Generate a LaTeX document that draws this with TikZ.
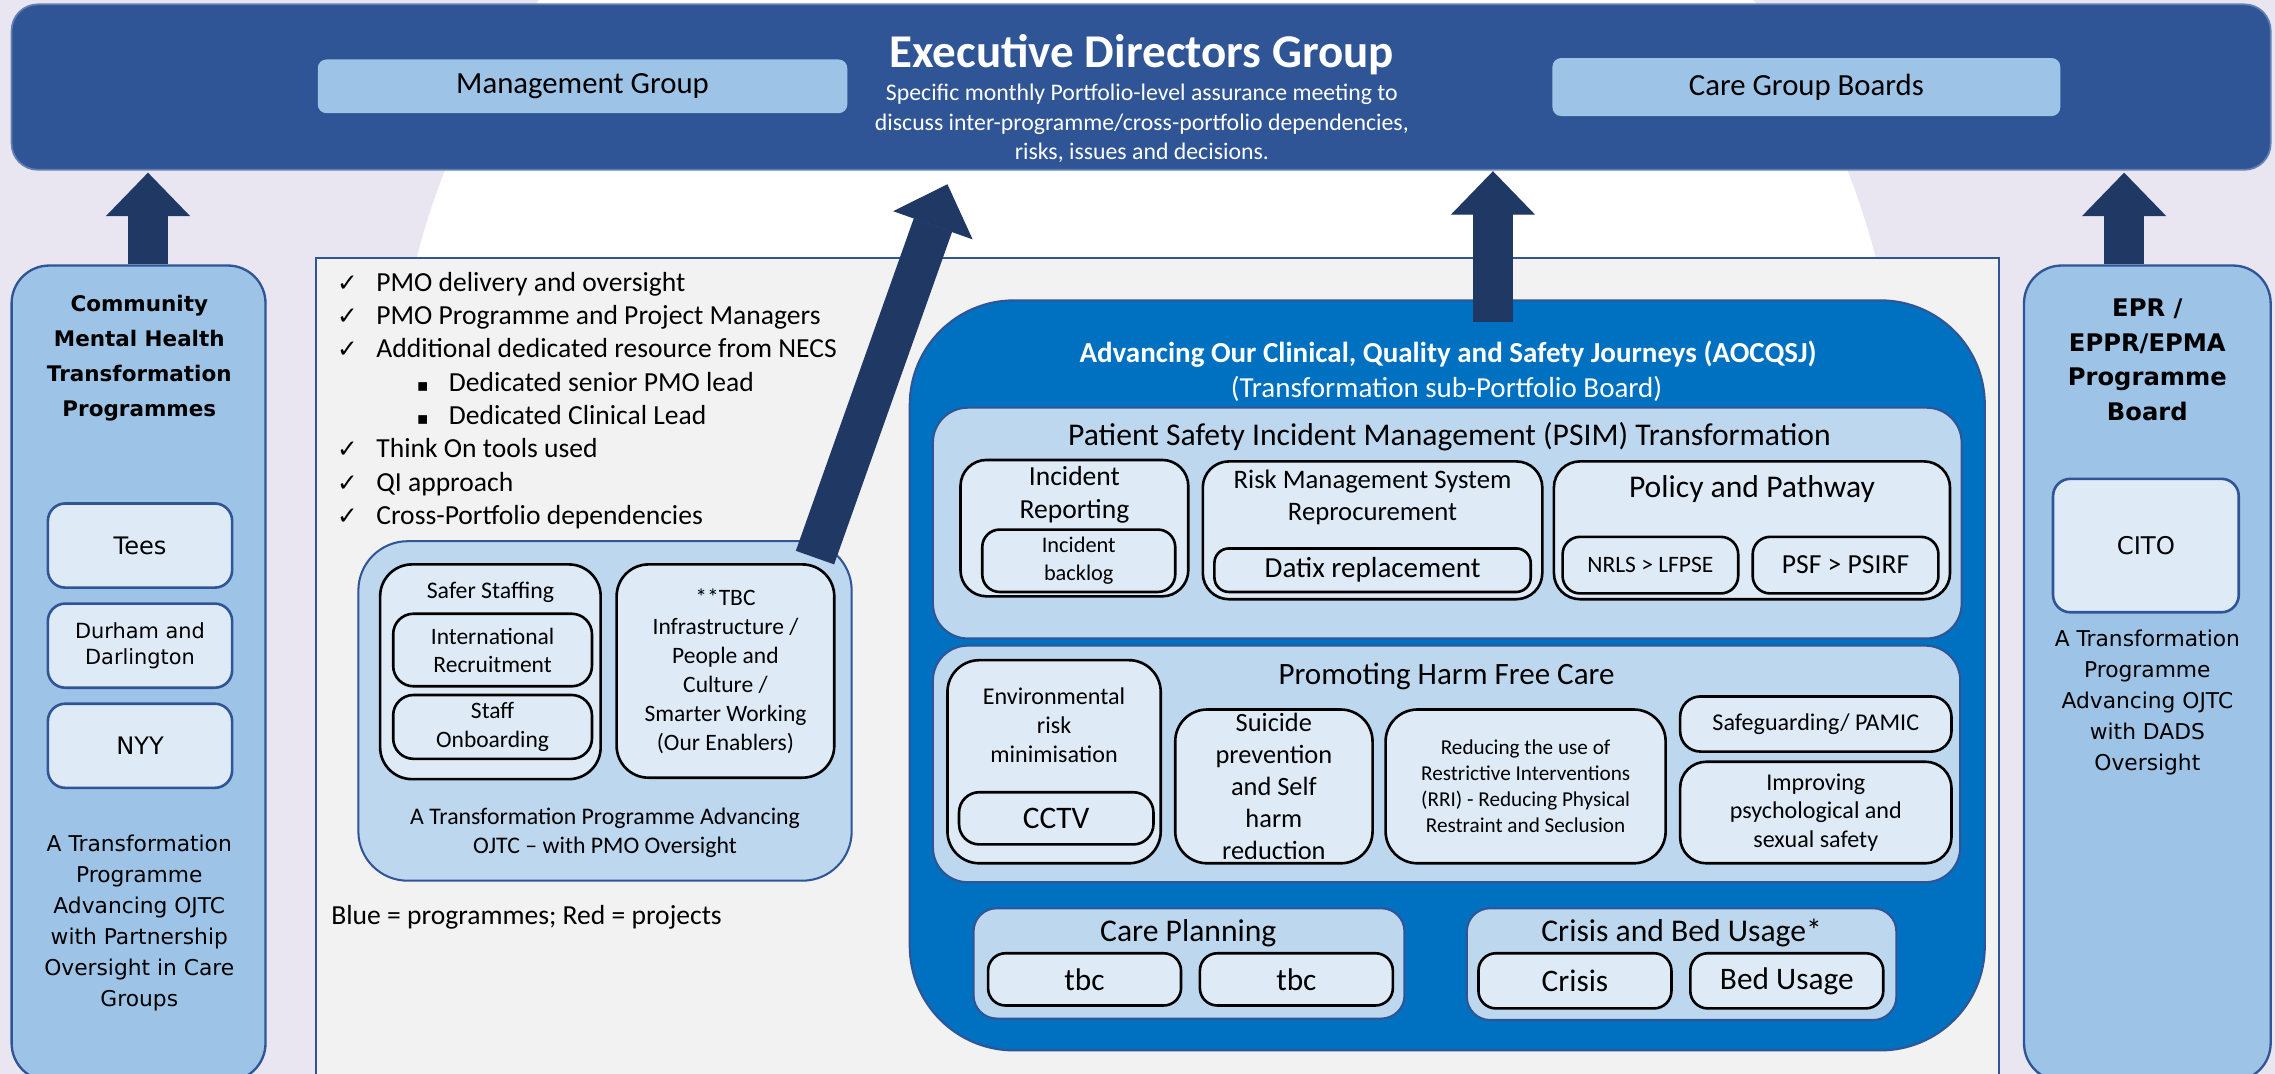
\documentclass[tikz,border=0pt]{standalone}
\usepackage{fontspec}
\setmainfont{Carlito}
\newfontfamily\verdana{DejaVu Sans}
\usetikzlibrary{arrows.meta}

\definecolor{edgblue}{HTML}{2F5597}
\definecolor{navy}{HTML}{203864}
\definecolor{panelblue}{HTML}{9DC3E6}
\definecolor{paleblue}{HTML}{DEEBF7}
\definecolor{midblue}{HTML}{BDD7EE}
\definecolor{journeyblue}{HTML}{0070C0}
\definecolor{greyfill}{HTML}{F2F2F2}
\definecolor{lavender}{HTML}{E9E6F2}

\newcommand{\fsz}[2]{\fontsize{#1pt}{#2pt}\selectfont}
\newcommand{\tick}{\makebox[15pt][l]{\hspace{1.5pt}{\verdana\fsz{8.5}{11.5}✓}}}
\newcommand{\subpt}{\hspace*{29pt}\makebox[11pt][l]{{\verdana\fsz{6}{7}▪}}}

\tikzset{
  banner/.style={draw=edgblue!75!white, line width=0.6pt, fill=edgblue, rounded corners=9pt},
  groupbtn/.style={fill=panelblue, rounded corners=3pt, font=\fsz{10.6}{12}},
  panel/.style={draw=edgblue, line width=0.8pt, fill=panelblue, rounded corners=13pt},
  sidebox/.style={draw=edgblue, line width=0.9pt, fill=paleblue, rounded corners=6pt, align=center},
  areabox/.style={draw=edgblue, line width=0.7pt, fill=midblue, rounded corners=#1},
  areabox/.default=10pt,
  projbox/.style={draw=black, line width=0.9pt, fill=paleblue, rounded corners=#1, align=center},
  projbox/.default=7pt,
  bigarrow/.style={draw=navy, line width=14pt, -{Triangle[width=29pt,length=15pt,line width=0.4pt]}}
}

\begin{document}
\begin{tikzpicture}[x=0.5pt, y=-0.5pt, inner sep=0pt]
\useasboundingbox (0,0) rectangle (1568,740);
\clip (0,0) rectangle (1568,740);

% background
\fill[lavender] (0,0) rectangle (1568,740);
\fill[white] (790,307) circle[radius=259.5pt];

% executive directors group
\node[banner, minimum width=778.5pt, minimum height=57pt] (edg) at (786.5,60) {};
\node[text=white, font=\bfseries\fsz{16.2}{19}] (edgtitle) at (787,38) {Executive Directors Group};
\node[text=white, align=center, font=\fsz{8.2}{10.25}] (edgnote) at (787,85)
  {Specific monthly Portfolio-level assurance meeting to\\discuss inter-programme/cross-portfolio dependencies,\\risks, issues and decisions.};
\node[groupbtn, minimum width=182.5pt, minimum height=18.5pt] (mgmt) at (401.5,59.5) {Management Group};
\node[groupbtn, minimum width=175pt, minimum height=20pt] (cgb) at (1245,60) {Care Group Boards};

% left panel
\node[panel, minimum width=87.5pt, minimum height=281pt] (cmh) at (95.5,464) {};
\node[align=center, font=\verdana\bfseries\fsz{7.4}{12}] (cmhtitle) at (96,247) {Community\\Mental Health\\Transformation\\Programmes};
\node[sidebox, minimum width=63.5pt, minimum height=29pt, font=\verdana\fsz{8.3}{10}] (tees) at (96.5,376) {Tees};
\node[sidebox, minimum width=63.5pt, minimum height=29pt, font=\verdana\fsz{7.2}{9}] (durham) at (96.5,445) {Durham and\\Darlington};
\node[sidebox, minimum width=63.5pt, minimum height=29pt, font=\verdana\fsz{8.3}{10}] (nyy) at (96.5,514) {NYY};
\node[align=center, font=\verdana\fsz{7.5}{10.7}] (cmhnote) at (96,636)
  {A Transformation\\Programme\\Advancing OJTC\\with Partnership\\Oversight in Care\\Groups};

% right panel
\node[panel, minimum width=85pt, minimum height=281pt] (epr) at (1480,464) {};
\node[align=center, font=\verdana\bfseries\fsz{8.35}{12}] (eprtitle) at (1480,248) {EPR /\\EPPR/EPMA\\Programme\\Board};
\node[sidebox, minimum width=64pt, minimum height=46pt, font=\verdana\fsz{8.4}{10}] (cito) at (1479,376) {CITO};
\node[align=center, font=\verdana\fsz{7.5}{10.7}] (citonote) at (1480,484)
  {A Transformation\\Programme\\Advancing OJTC\\with DADS\\Oversight};

% PMO area
\node[draw=edgblue, line width=0.75pt, fill=greyfill, minimum width=580pt, minimum height=283.5pt] (pmoarea) at (798,461.5) {};
\node[anchor=north west, align=left, font=\fsz{9.5}{11.5}] (checks) at (229,187)
  {\tick PMO delivery and oversight\\
   \tick PMO Programme and Project Managers\\
   \tick Additional dedicated resource from NECS\\
   \subpt Dedicated senior PMO lead\\
   \subpt Dedicated Clinical Lead\\
   \tick Think On tools used\\
   \tick QI approach\\
   \tick Cross-Portfolio dependencies};
\node[anchor=west, font=\fsz{9.5}{11.5}] (legend) at (228,632) {Blue = programmes; Red = projects};

\node[areabox=17pt, minimum width=170pt, minimum height=117pt] (pmo) at (417,490) {};
\node[projbox=11pt, minimum width=76pt, minimum height=74pt] (safer) at (338,463) {};
\node[font=\fsz{8.2}{10}] (safertitle) at (338,408) {Safer Staffing};
\node[projbox, minimum width=68.5pt, minimum height=25pt, font=\fsz{8.1}{9.7}] (intl) at (339.5,448) {International\\Recruitment};
\node[projbox, minimum width=68.5pt, minimum height=22pt, font=\fsz{8.1}{10}] (onboard) at (339.5,501) {Staff\\Onboarding};
\node[projbox=11pt, minimum width=75pt, minimum height=73.5pt, font=\fsz{8.1}{10}] (enablers) at (500,462.5)
  {**TBC\\Infrastructure /\\People and\\Culture /\\Smarter Working\\(Our Enablers)};
\node[align=center, font=\fsz{8.2}{10}] (pmonote) at (417,574) {A Transformation Programme Advancing\\OJTC – with PMO Oversight};

% AOCQSJ sub-portfolio board
\node[draw=edgblue, line width=0.7pt, fill=journeyblue, rounded corners=36pt, minimum width=370.5pt, minimum height=258.5pt] (aocqsj) at (997.5,465.5) {};
\node[text=white, font=\bfseries\fsz{10}{12}] (aoctitle) at (998,244) {Advancing Our Clinical, Quality and Safety Journeys (AOCQSJ)};
\node[text=white, font=\fsz{10}{12}] (aocsub) at (997,268) {(Transformation sub-Portfolio Board)};

% PSIM
\node[areabox=12pt, minimum width=354.5pt, minimum height=79.5pt] (psim) at (997.5,360.5) {};
\node[font=\fsz{10.9}{13}] (psimtitle) at (999,301) {Patient Safety Incident Management (PSIM) Transformation};
\node[projbox=9pt, minimum width=78.5pt, minimum height=47pt] (increp) at (740.5,364) {};
\node[align=center, font=\fsz{9.5}{11.5}] (increptitle) at (740.5,341) {Incident\\Reporting};
\node[projbox=6pt, minimum width=66.5pt, minimum height=21.5pt, font=\fsz{7.7}{9.5}] (backlog) at (743.5,386.5) {Incident\\backlog};
\node[projbox=9pt, minimum width=117pt, minimum height=47.5pt] (riskms) at (946,365.5) {};
\node[align=center, font=\fsz{9.2}{11}] (riskmstitle) at (946,343) {Risk Management System\\Reprocurement};
\node[projbox=5pt, minimum width=109pt, minimum height=15pt, font=\fsz{10}{12}] (datix) at (946,393) {Datix replacement};
\node[projbox=9pt, minimum width=136.5pt, minimum height=47.5pt] (policy) at (1207.5,365.5) {};
\node[font=\fsz{10.9}{13}] (policytitle) at (1207.5,337) {Policy and Pathway};
\node[projbox=6pt, minimum width=60.5pt, minimum height=19.5pt, font=\fsz{8.1}{10}] (nrls) at (1137.5,389.5) {NRLS > LFPSE};
\node[projbox=6pt, minimum width=64pt, minimum height=19.5pt, font=\fsz{9.5}{11}] (psf) at (1272,389.5) {PSF > PSIRF};

% promoting harm free care
\node[areabox=12pt, minimum width=354pt, minimum height=81.5pt] (harm) at (997,526.5) {};
\node[font=\fsz{10.7}{13}] (harmtitle) at (997,466) {Promoting Harm Free Care};
\node[projbox=11pt, minimum width=73.5pt, minimum height=70pt] (envrisk) at (726.5,525) {};
\node[align=center, font=\fsz{8.3}{10}] (envtitle) at (726.5,500) {Environmental\\risk\\minimisation};
\node[projbox, minimum width=67pt, minimum height=18pt, font=\fsz{10.8}{12}] (cctv) at (728,564) {CCTV};
\node[projbox=11pt, minimum width=68pt, minimum height=53pt] (suicide) at (878,542) {};
\node[align=center, font=\fsz{9.1}{11}] (suicidetext) at (878,542) {Suicide\\prevention\\and Self\\harm\\reduction};
\node[projbox=11pt, minimum width=96.5pt, minimum height=53pt, font=\fsz{7.3}{8.9}] (rri) at (1051.5,542)
  {Reducing the use of\\Restrictive Interventions\\(RRI) - Reducing Physical\\Restraint and Seclusion};
\node[projbox, minimum width=93.5pt, minimum height=19pt, font=\fsz{8.3}{10}] (safeguard) at (1251.5,499) {Safeguarding/ PAMIC};
\node[projbox=9pt, minimum width=93.5pt, minimum height=35pt, font=\fsz{8.3}{9.7}] (psysafe) at (1251.5,560)
  {Improving\\psychological and\\sexual safety};

% care planning and crisis
\node[areabox=8pt, minimum width=148.5pt, minimum height=38pt] (careplan) at (819.5,664) {};
\node[font=\fsz{10.9}{13}] (careplantitle) at (819,643) {Care Planning};
\node[projbox=6pt, minimum width=66.5pt, minimum height=18pt, font=\fsz{10.8}{12}] (tbcone) at (747.5,675) {tbc};
\node[projbox=6pt, minimum width=66.5pt, minimum height=18pt, font=\fsz{10.8}{12}] (tbctwo) at (893.5,675) {tbc};
\node[areabox=8pt, minimum width=148pt, minimum height=38.5pt] (crisisbed) at (1159,664.5) {};
\node[font=\fsz{10.9}{13}] (crisisbedtitle) at (1159,643) {Crisis and Bed Usage*};
\node[projbox=6pt, minimum width=66.5pt, minimum height=19pt, font=\fsz{10.8}{12}] (crisis) at (1085.5,676) {Crisis};
\node[projbox=6pt, minimum width=66.5pt, minimum height=19pt, font=\fsz{10.8}{12}] (bedusage) at (1231.5,676) {Bed Usage};

% arrows up to the executive directors group
\coordinate (cmhtip) at (102,119);
\coordinate (eprtip) at (1464,119);
\coordinate (aocfoot) at (1029,222);
\coordinate (aoctip) at (1029,118);
\coordinate (pmotip) at (653,127);
\draw[bigarrow] (cmh.north -| cmhtip) -- (cmhtip);
\draw[bigarrow] (epr.north -| eprtip) -- (eprtip);
\draw[bigarrow] (aocfoot) -- (aoctip);
\draw[bigarrow] ([xshift=-13pt,yshift=-6pt]pmo.north east) -- (pmotip);
\end{tikzpicture}
\end{document}
